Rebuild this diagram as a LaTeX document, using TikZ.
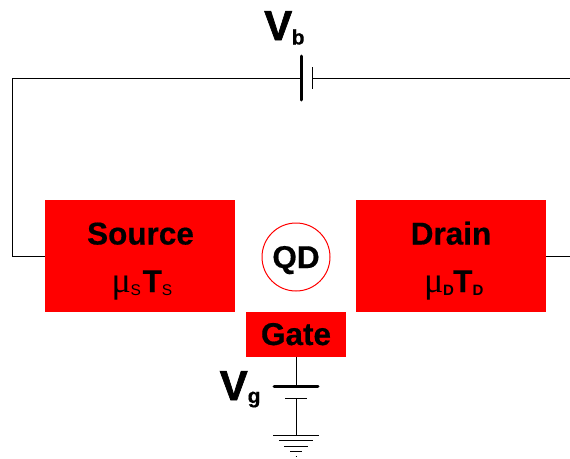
\documentclass[tikz,border=0pt]{standalone}
\usepackage{fontspec}
\setmainfont{Liberation Sans}
\newfontfamily\muface{Liberation Serif}
\newfontfamily\heavyface[BoldFeatures={FakeBold=1.6}]{Liberation Sans}
\newfontfamily\midface[BoldFeatures={FakeBold=0.5}]{Liberation Sans}
\tikzset{
  block/.style={fill=red,draw=none,inner sep=0pt,outer sep=0pt,minimum width=#1},
  title/.style={inner sep=0pt,anchor=base,font=\fontsize{31.5}{34}\selectfont\midface\bfseries,text=black},
  big/.style={inner sep=0pt,anchor=base west,font=\fontsize{42}{44}\selectfont\heavyface\bfseries},
  subbig/.style={inner sep=0pt,anchor=base west,font=\fontsize{21}{23}\selectfont\midface\bfseries},
  sym/.style={inner sep=0pt,anchor=base west,font=\fontsize{31.5}{34}\selectfont\midface\bfseries},
  musym/.style={inner sep=0pt,anchor=base west,font=\fontsize{36}{38}\selectfont\muface},
  subsym/.style={inner sep=0pt,anchor=base west,font=\fontsize{15.5}{17}\selectfont},
  subsymb/.style={inner sep=0pt,anchor=base west,font=\fontsize{15}{17}\selectfont\bfseries},
  wire/.style={draw=black,line width=1pt},
  plate/.style={draw=black,line width=3pt,line cap=round},
  thin plate/.style={draw=black,line width=1pt},
}
\begin{document}
\begin{tikzpicture}[x=1pt,y=-1pt]
\useasboundingbox (0,0) rectangle (570,458);
\fill[white] (0,0) rectangle (570,458);
% blocks
\node[block=190pt,minimum height=112pt] (source) at (140,256) {};
\node[block=190pt,minimum height=112pt] (drain) at (451,256) {};
\node[block=100pt,minimum height=45pt] (gate) at (296,334.5) {};
\node[circle,draw=red,line width=1pt,fill=white,minimum size=68pt,inner sep=0pt,outer sep=0pt] (qd) at (296,257) {};
% titles
\node[title] (sourcet) at (140.5,244.5) {Source};
\node[title] (draint) at (451,244.5) {Drain};
\node[title] (qdt) at (296,268) {QD};
\node[title] (gatet) at (296,345) {Gate};
% source params
\node[musym] (mus) at (111.5,292) {μ};
\node[subsym] (muss) at (130.5,295) {S};
\node[sym] (ts) at (142.5,292) {T};
\node[subsym] (tss) at (161.7,295) {S};
% drain params
\node[musym] (mud) at (424,292) {μ};
\node[subsymb] (mudd) at (443,295) {D};
\node[sym] (td) at (453,292) {T};
\node[subsymb] (tdd) at (472.3,295) {D};
% voltage labels
\node[big] (vb) at (264,40) {V};
\node[subbig] (vbs) at (291.5,44.5) {b};
\node[big] (vg) at (219.5,400) {V};
\node[subbig] (vgs) at (247.5,403) {g};
% battery Vb
\coordinate (bl) at (301,78);
\coordinate (br) at (312.5,78);
\draw[plate] (301,56) -- (301,100);
\draw[thin plate] (312.5,67) -- (312.5,89);
% battery Vg
\coordinate (gl) at (296,386);
\coordinate (gs) at (296,398);
\draw[plate] (274,386) -- (318,386);
\draw[thin plate] (285,398) -- (307,398);
% ground
\coordinate (g0) at (296,435);
\draw[thin plate] (273,435) -- (319,435);
\draw[thin plate] (279,440.5) -- (313,440.5);
\draw[thin plate] (284,446) -- (308,446);
\draw[thin plate] (290,451) -- (302,451);
\draw[thin plate] (295.5,456.5) -- (296.5,456.5);
% wires
\coordinate (rightend) at (570,78);
\coordinate (rightdown) at (570,256.5);
\draw[wire] (source.west |- 0,256.5) -- (12.5,256.5) |- (bl);
\draw[wire] (br) -- (rightend);
\draw[wire] (drain.east |- 0,256.5) -- (rightdown);
\draw[wire] (gate.south) -- (gl);
\draw[wire] (gs) -- (g0);
\end{tikzpicture}
\end{document}
